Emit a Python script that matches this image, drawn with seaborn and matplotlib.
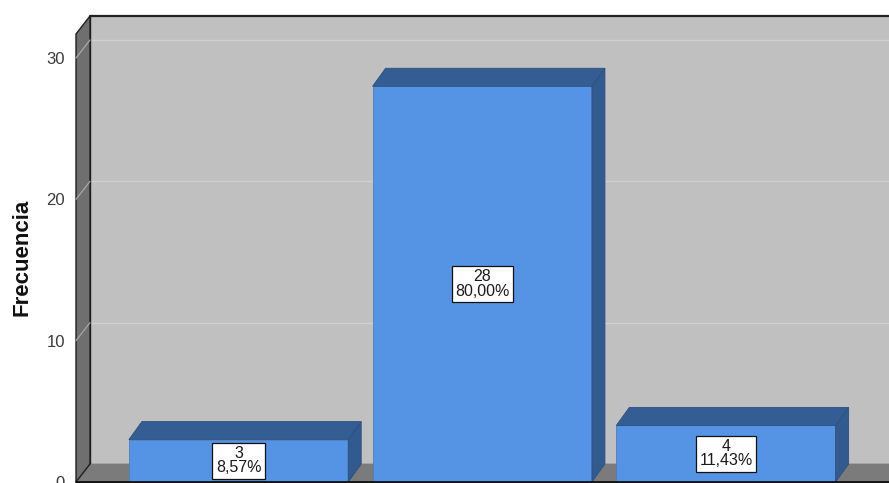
import matplotlib
matplotlib.use("Agg")
import matplotlib.pyplot as plt
import seaborn as sns
import pandas as pd
from matplotlib.patches import Polygon

# Frequency table
categories = ["Bajo", "Medio", "Alto"]
frecuencia = [3, 28, 4]
porcentaje = ["8,57%", "80,00%", "11,43%"]
y_ticks = [0, 10, 20, 30]

df = pd.DataFrame({"categoria": categories, "frecuencia": frecuencia})

sns.set_theme(style="white")
plt.rcParams["font.family"] = ["Liberation Sans", "DejaVu Sans"]

W, H = 889, 483
fig = plt.figure(figsize=(W / 100, H / 100), dpi=100)
fig.patch.set_facecolor("white")
ax = fig.add_axes([76 / W, 1 / H, (W - 76) / W, 424 / H])

# front faces of the bars
sns.barplot(data=df, x="categoria", y="frecuencia", color="#5594e4",
            saturation=1, width=0.9, edgecolor="#4a7fc4", linewidth=0.6,
            ax=ax, zorder=3)
bars = list(ax.patches)

xl, xr = -0.667, 2.669
ax.set_xlim(xl, xr)
ax.set_ylim(0, 30)
ax.patch.set_alpha(0)
for s in ax.spines.values():
    s.set_visible(False)


def offset(px, py):
    """Convert a pixel shift into data units."""
    o = ax.transData.transform((0, 0))
    p = ax.transData.inverted().transform((o[0] + px, o[1] + py))
    return p[0], p[1]


wdx, wdy = offset(14, 18)   # depth of the chart box
bdx, bdy = offset(13, 18)   # depth of each bar
top = 31.7
xr2 = xr + 0.2

# back wall
ax.add_patch(Polygon([(xl + wdx, wdy), (xr2, wdy), (xr2, top + wdy), (xl + wdx, top + wdy)],
                     closed=True, fc="#c0c0c0", ec="none", clip_on=False, zorder=0))
for v in y_ticks[1:]:
    ax.plot([xl + wdx, xr2], [v + wdy, v + wdy], color="#d0d0d0", lw=1.0,
            clip_on=False, zorder=0.5)
ax.plot([xl + wdx, xr2], [top + wdy, top + wdy], color="#222222", lw=1.6,
        clip_on=False, zorder=1)
ax.plot([xl + wdx, xl + wdx], [wdy, top + wdy], color="#222222", lw=1.0,
        clip_on=False, zorder=1)
ax.plot([xl + wdx, xr2], [wdy, wdy], color="#3a3a3a", lw=1.0,
        clip_on=False, zorder=1)

# left wall
ax.add_patch(Polygon([(xl, 0), (xl, top), (xl + wdx, top + wdy), (xl + wdx, wdy)],
                     closed=True, fc="#6f6f6f", ec="#1e1e1e", lw=1.0,
                     clip_on=False, zorder=1.2))
for v in y_ticks[1:]:
    ax.plot([xl, xl + wdx], [v, v + wdy], color="#a8a8a8", lw=0.9,
            clip_on=False, zorder=1.3)

# floor
ax.add_patch(Polygon([(xl, 0), (xr2, 0), (xr2, wdy), (xl + wdx, wdy)],
                     closed=True, fc="#7b7b7b", ec="none", clip_on=False, zorder=1.1))
ax.plot([xl, xr2], [0, 0], color="#111111", lw=2.0, clip_on=False, zorder=6)

# top and side faces of the bars, plus labels
for bar, v, p in zip(bars, frecuencia, porcentaje):
    x0 = bar.get_x()
    x1 = x0 + bar.get_width()
    h = bar.get_height()
    ax.add_patch(Polygon([(x0, h), (x1, h), (x1 + bdx, h + bdy), (x0 + bdx, h + bdy)],
                         closed=True, fc="#345d93", ec="#2c5080", lw=0.6,
                         clip_on=False, zorder=3.2))
    ax.add_patch(Polygon([(x1, 0), (x1 + bdx, bdy), (x1 + bdx, h + bdy), (x1, h)],
                         closed=True, fc="#315a8f", ec="#2c5080", lw=0.6,
                         clip_on=False, zorder=3.1))
    ax.text(x0 + bar.get_width() / 2, h / 2, f"{v}\n{p}", ha="center", va="center",
            fontsize=11.5, color="#1a1a1a", linespacing=0.95, zorder=5,
            bbox=dict(boxstyle="square,pad=0.22", fc="white", ec="#111111", lw=0.9))

ax.set_yticks(y_ticks)
ax.set_yticklabels([str(t) for t in y_ticks])
ax.tick_params(axis="y", length=0, pad=8, labelsize=12, labelcolor="#3a3a3a")
ax.set_xticks([])
ax.set_xlabel("")
ax.set_ylabel("")

fig.text(22 / W, 1 - 257 / H, "Frecuencia", rotation=90, ha="center", va="center",
         fontsize=16, fontweight="bold", color="#111111")

fig.savefig("out.png", dpi=100)
